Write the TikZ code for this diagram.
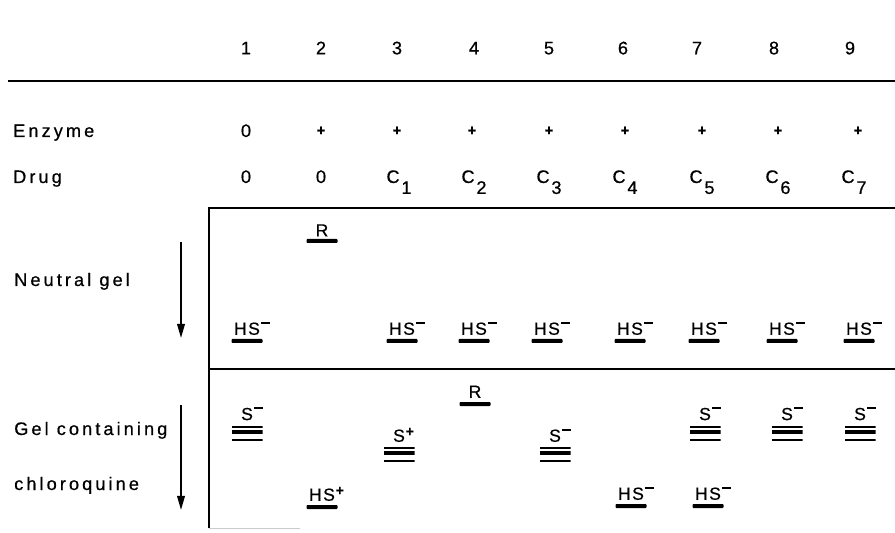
\documentclass[tikz,border=0pt]{standalone}
\usepackage{fontspec}
\setmainfont{Liberation Sans}[FakeBold=0.6]
\newfontfamily\spacedfont[LetterSpace=17, FakeBold=0.6]{Liberation Sans}
\newfontfamily\bandfont[LetterSpace=8, FakeBold=0.6]{Liberation Sans}
\usetikzlibrary{arrows.meta, positioning}

\newcommand{\supminus}{\rlap{\hspace{0.08em}\rule[0.62em]{0.5em}{0.12em}}}
\newcommand{\supplus}{\rlap{\hspace{0.05em}\raisebox{0.32em}{\fontsize{12}{12}\selectfont\bfseries +}}}
\newcommand{\drugc}[1]{C\kern0.1em\raisebox{-0.6em}{#1}}

\begin{document}
\begin{tikzpicture}[
  lanenum/.style={font=\fontsize{15.5}{15.5}\selectfont, anchor=base},
  rowlabel/.style={font=\spacedfont\fontsize{15.5}{17}\selectfont,
    anchor=base west, inner sep=0pt},
  cell/.style={font=\spacedfont\fontsize{15.5}{17}\selectfont, anchor=base},
  bandlbl/.style={font=\bandfont\fontsize{15}{16}\selectfont,
    anchor=base, inner sep=0pt},
  band/.style={rectangle, fill=black, rounded corners=0.8pt,
    minimum width=0.93cm, minimum height=0.12cm, inner sep=0pt},
  triband/.style={rectangle, minimum width=0.93cm, minimum height=0.45cm,
    inner sep=0pt,
    path picture={
      \fill (path picture bounding box.north west) rectangle
        ([yshift=-0.065cm]path picture bounding box.north east);
      \fill ([yshift=-0.11cm]path picture bounding box.north west) rectangle
        ([yshift=-0.24cm]path picture bounding box.north east);
      \fill ([yshift=0.075cm]path picture bounding box.south west) rectangle
        (path picture bounding box.south east);
    }},
  frame/.style={line width=2.4pt},
  migr/.style={line width=1.5pt, -{Triangle[width=6.5pt,length=12pt]}}
]
\useasboundingbox (0,0) rectangle (26.85,15.96);

% Lane numbers
\foreach \i/\x in {1/7.38, 2/9.63, 3/11.91, 4/14.22, 5/16.47,
                   6/18.69, 7/20.91, 8/23.22, 9/25.50}
  \node[lanenum] (n\i) at (\x,14.33) {\i};

\draw[frame] (0.24,13.53) -- (26.85,13.53);

% Enzyme and drug rows
\node[rowlabel] (enz) at (0.39,11.85) {Enzyme};
\node[rowlabel] (drug) at (0.39,10.47) {Drug};
\node[cell] (e1) at (7.38,11.85) {0};
\foreach \i/\x in {2/9.63, 3/11.91, 4/14.16, 5/16.47,
                   6/18.75, 7/21.06, 8/23.34, 9/25.74}
  \node[cell, font=\bfseries\fontsize{12.5}{12.5}\selectfont] (e\i) at (\x,11.9) {+};
\node[cell] (d1) at (7.38,10.47) {0};
\node[cell] (d2) at (9.63,10.47) {0};
\foreach \i/\x/\c in {3/11.97/1, 4/14.22/2, 5/16.47/3, 6/18.75/4,
                      7/21.06/5, 8/23.34/6, 9/25.62/7}
  \node[cell] (d\i) at (\x,10.47) {\drugc{\c}};

% Gel frame
\draw[frame] (26.85,9.72) -- (6.27,9.72) -- (6.27,0.12);
\draw[frame] (6.27,4.89) -- (26.85,4.89);
\draw[gray!40, line width=0.6pt] (6.27,0.12) -- (9.0,0.12);

% Left annotations
\node[rowlabel] (neutral) at (0.42,7.38) {Neutral gel};
\node[rowlabel] (gelc) at (0.42,2.91) {Gel containing};
\node[rowlabel] (chloro) at (0.42,1.26) {chloroquine};
\coordinate (a1s) at (5.43,8.70);
\coordinate (a1e) at (5.43,5.82);
\coordinate (a2s) at (5.43,3.81);
\coordinate (a2e) at (5.43,0.66);
\draw[migr] (a1s) -- (a1e);
\draw[migr] (a2s) -- (a2e);

% Neutral gel bands
\node[band] (ur2) at (9.66,8.73) {};
\node[bandlbl] (ul2) at ([yshift=0.07cm]ur2.north) {R};
\foreach \i/\x in {1/7.41, 3/12.06, 4/14.22, 5/16.41,
                   6/18.90, 7/21.12, 8/23.46, 9/25.77}{
  \node[band] (u\i) at (\x,5.73) {};
  \node[bandlbl] (ul\i) at ([yshift=0.12cm]u\i.north) {HS\supminus};
}

% Chloroquine gel bands
\foreach \i/\x in {1/7.41, 7/21.15, 8/23.61, 9/25.80}{
  \node[triband] (t\i) at (\x,2.955) {};
  \node[bandlbl] (tl\i) at ([yshift=0.17cm]t\i.north) {S\supminus};
}
\node[triband] (t3) at (11.97,2.325) {};
\node[bandlbl] (tl3) at ([yshift=0.15cm]t3.north) {S\supplus};
\node[triband] (t5) at (16.65,2.325) {};
\node[bandlbl] (tl5) at ([yshift=0.15cm]t5.north) {S\supminus};
\node[band] (lr4) at (14.25,3.84) {};
\node[bandlbl] (ll4) at ([yshift=0.12cm]lr4.north) {R};
\node[band] (lh2) at (9.66,0.75) {};
\node[bandlbl] (lhl2) at ([yshift=0.12cm]lh2.north) {HS\supplus};
\node[band] (lh6) at (18.93,0.78) {};
\node[bandlbl] (lhl6) at ([yshift=0.12cm]lh6.north) {HS\supminus};
\node[band] (lh7) at (21.24,0.78) {};
\node[bandlbl] (lhl7) at ([yshift=0.12cm]lh7.north) {HS\supminus};
\end{tikzpicture}
\end{document}
